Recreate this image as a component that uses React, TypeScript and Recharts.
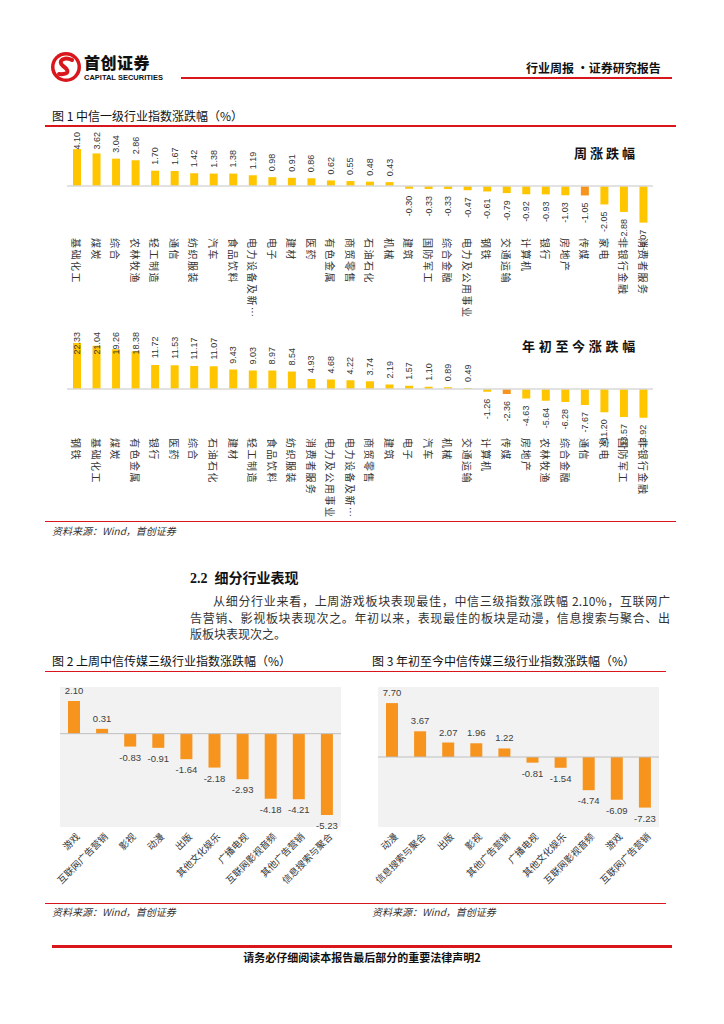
import React from 'react';
import { BarChart, Bar, XAxis, YAxis, Cell, LabelList, ReferenceLine, CartesianGrid } from 'recharts';

// 图1 周涨跌幅
const weekCategories = [
  '基础化工', '煤炭', '综合', '农林牧渔', '轻工制造', '通信', '纺织服装', '汽车', '食品饮料', '电力设备及新能源',
  '电子', '建材', '医药', '有色金属', '商贸零售', '石油石化', '机械', '建筑', '国防军工', '综合金融',
  '电力及公用事业', '钢铁', '交通运输', '计算机', '银行', '房地产', '传媒', '家电', '非银行金融', '消费者服务',
];
const weekValues = [
  4.1, 3.62, 3.04, 2.86, 1.7, 1.67, 1.42, 1.38, 1.38, 1.19,
  0.98, 0.91, 0.86, 0.62, 0.55, 0.48, 0.43, -0.3, -0.33, -0.33,
  -0.47, -0.61, -0.79, -0.92, -0.93, -1.03, -1.05, -2.05, -2.88, -4.07,
];

// 图1 年初至今涨跌幅
const ytdCategories = [
  '钢铁', '基础化工', '煤炭', '有色金属', '银行', '医药', '综合', '石油石化', '建材', '轻工制造',
  '食品饮料', '纺织服装', '消费者服务', '电力及公用事业', '电力设备及新能源', '商贸零售', '建筑', '电子', '汽车', '机械',
  '交通运输', '计算机', '传媒', '房地产', '农林牧渔', '综合金融', '通信', '家电', '国防军工', '非银行金融',
];
const ytdValues = [
  22.33, 21.04, 19.26, 18.38, 11.72, 11.53, 11.17, 11.07, 9.43, 9.03,
  8.97, 8.54, 4.93, 4.68, 4.22, 3.74, 2.19, 1.57, 1.1, 0.89,
  0.49, -1.26, -2.36, -4.63, -5.64, -6.28, -7.67, -11.2, -13.57, -13.92,
];

// 图2 上周中信传媒三级行业
const fig2Categories = ['游戏', '互联网广告营销', '影视', '动漫', '出版', '其他文化娱乐', '广播电视', '互联网影视音频', '其他广告营销', '信息搜索与聚合'];
const fig2Values = [2.1, 0.31, -0.83, -0.91, -1.64, -2.18, -2.93, -4.18, -4.21, -5.23];

// 图3 年初至今中信传媒三级行业
const fig3Categories = ['动漫', '信息搜索与聚合', '出版', '影视', '其他广告营销', '广播电视', '其他文化娱乐', '互联网影视音频', '游戏', '互联网广告营销'];
const fig3Values = [7.7, 3.67, 2.07, 1.96, 1.22, -0.81, -1.54, -4.74, -6.09, -7.23];

const highlightName = '传媒';

const CJK = '"Noto Sans CJK SC", "Noto Sans", sans-serif';
const NUM = '"Liberation Sans", Arial, sans-serif';
const RED = '#d9161c';
const YELLOW = '#ffc600';
const ORANGE = '#f7941d';

const toRows = (cats: string[], vals: number[]) => cats.map((name, i) => ({ name, value: vals[i] }));

const shortName = (s: string) => (s.length > 7 ? s.slice(0, 6) + '…' : s);

const charW = (c: string) => (c === '.' ? 2.5 : c === '-' ? 3 : 5);
const textLen = (t: string) => t.split('').reduce((a, c) => a + charW(c), 0);

const boxOf = (props: any) => {
  const vb = props.viewBox && props.viewBox.width !== undefined ? props.viewBox : props;
  const top = Math.min(vb.y, vb.y + vb.height);
  const bottom = Math.max(vb.y, vb.y + vb.height);
  return { cx: vb.x + vb.width / 2, top, bottom };
};

const rotatedValueLabel = (clampTop: number) => (props: any) => {
  const { cx, top, bottom } = boxOf(props);
  const v = Number(props.value);
  const text = v.toFixed(2);
  const ay = v >= 0 ? Math.max(top - 6 - textLen(text), clampTop) : bottom + 7;
  return (
    <text
      x={cx}
      y={ay}
      transform={`rotate(-90, ${cx}, ${ay})`}
      textAnchor="end"
      dominantBaseline="central"
      fontSize={9}
      fontFamily={NUM}
      fill="#333"
    >
      {text}
    </text>
  );
};

const flatValueLabel = (props: any) => {
  const { cx, top, bottom } = boxOf(props);
  const v = Number(props.value);
  const y = v >= 0 ? top - 7 : bottom + 14;
  return (
    <text x={cx} y={y} textAnchor="middle" fontSize={9.5} fontFamily={NUM} fill="#404040">
      {v.toFixed(2)}
    </text>
  );
};

const VerticalTick = (props: any) => {
  const { x, payload, labelY } = props;
  return (
    <text
      x={x}
      y={labelY}
      transform={`rotate(90, ${x}, ${labelY})`}
      textAnchor="start"
      dominantBaseline="central"
      fontSize={10}
      letterSpacing={1.5}
      fontFamily={CJK}
      fill="#333"
    >
      {shortName(payload.value)}
    </text>
  );
};

const SlantTick = (props: any) => {
  const { x, payload, labelY } = props;
  const tx = x + 4;
  return (
    <text
      x={tx}
      y={labelY}
      transform={`rotate(-45, ${tx}, ${labelY})`}
      textAnchor="end"
      dy="0.35em"
      fontSize={9.5}
      fontFamily={CJK}
      fill="#333"
    >
      {payload.value}
    </text>
  );
};

type IndustryProps = {
  top: number;
  height: number;
  marginTop: number;
  axisHeight: number;
  domain: [number, number];
  cats: string[];
  vals: number[];
  labelY: number;
  clampTop: number;
};

const IndustryChart = ({ top, height, marginTop, axisHeight, domain, cats, vals, labelY, clampTop }: IndustryProps) => {
  const rows = toRows(cats, vals);
  return (
    <div style={{ position: 'absolute', left: 0, top }}>
      <BarChart width={724} height={height} data={rows} margin={{ top: marginTop, right: 71, left: 67, bottom: 0 }}>
        <XAxis
          dataKey="name"
          axisLine={false}
          tickLine={false}
          interval={0}
          height={axisHeight}
          tick={(p: any) => <VerticalTick {...p} labelY={labelY} />}
        />
        <YAxis hide width={0} domain={domain} allowDataOverflow />
        <ReferenceLine y={0} stroke="#d9d9d9" strokeWidth={1.5} />
        <Bar dataKey="value" barSize={8} isAnimationActive={false}>
          {rows.map((r) => (
            <Cell key={r.name} fill={r.name === highlightName ? ORANGE : YELLOW} />
          ))}
          <LabelList dataKey="value" content={rotatedValueLabel(clampTop)} />
        </Bar>
      </BarChart>
    </div>
  );
};

type MediaProps = {
  left: number;
  marginLeft: number;
  marginRight: number;
  domain: [number, number];
  cats: string[];
  vals: number[];
};

const MediaChart = ({ left, marginLeft, marginRight, domain, cats, vals }: MediaProps) => {
  const rows = toRows(cats, vals);
  return (
    <div style={{ position: 'absolute', left, top: 680 }}>
      <BarChart width={362} height={220} data={rows} margin={{ top: 7, right: marginRight, left: marginLeft, bottom: 0 }}>
        <CartesianGrid horizontal={false} vertical={false} fill="#f2f2f2" fillOpacity={1} />
        <XAxis
          dataKey="name"
          axisLine={false}
          tickLine={false}
          interval={0}
          height={73}
          tick={(p: any) => <SlantTick {...p} labelY={155} />}
        />
        <YAxis hide width={0} domain={domain} />
        <ReferenceLine y={0} stroke="#bfbfbf" strokeWidth={1} />
        <Bar dataKey="value" barSize={12} fill={ORANGE} isAnimationActive={false}>
          <LabelList dataKey="value" content={flatValueLabel} />
        </Bar>
      </BarChart>
    </div>
  );
};

const abs = (left: number, top: number, extra: React.CSSProperties = {}): React.CSSProperties => ({
  position: 'absolute',
  left,
  top,
  lineHeight: 1,
  whiteSpace: 'nowrap',
  fontFamily: CJK,
  ...extra,
});

const Rule = ({ left, top, width, h = 1.5 }: { left: number; top: number; width: number; h?: number }) => (
  <div style={{ position: 'absolute', left, top, width, height: h, background: RED }} />
);

const Logo = () => (
  <svg width={32} height={32} viewBox="0 0 32 32" style={{ position: 'absolute', left: 50, top: 51 }}>
    <circle cx={16} cy={16} r={15} fill={RED} />
    <circle cx={16} cy={16} r={11.5} fill="#fff" />
    <path d="M22 9 C14 5, 7 10, 13 15 C19 19, 20 24, 9 23" fill="none" stroke={RED} strokeWidth={4} strokeLinecap="round" />
  </svg>
);

export default function App() {
  const para: React.CSSProperties = { fontSize: 12, color: '#333', fontFamily: CJK, textAlignLast: 'justify', textAlign: 'justify' };
  return (
    <div style={{ position: 'absolute', left: 0, top: 0, width: 724, height: 1024, background: '#fff', overflow: 'hidden' }}>
      {/* header */}
      <Logo />
      <div style={abs(84, 54, { fontSize: 16, fontWeight: 900, color: '#111', letterSpacing: 0.5 })}>首创证券</div>
      <div style={abs(84, 74, { fontSize: 7.5, fontWeight: 700, fontFamily: NUM, color: '#111' })}>CAPITAL SECURITIES</div>
      <Rule left={181} top={77} width={491} h={2} />
      <div style={abs(526, 62, { fontSize: 12, fontWeight: 700, color: '#111' })}>行业周报 ·证券研究报告</div>

      {/* figure 1 */}
      <div style={abs(52, 110, { fontSize: 12, color: '#111' })}>图 1 中信一级行业指数涨跌幅（%）</div>
      <Rule left={45} top={125} width={631} />
      <IndustryChart
        top={128}
        height={200}
        marginTop={13}
        axisHeight={97}
        domain={[-5, 5]}
        cats={weekCategories}
        vals={weekValues}
        labelY={110}
        clampTop={4}
      />
      <IndustryChart
        top={313}
        height={207}
        marginTop={24.5}
        axisHeight={100}
        domain={[-15, 25]}
        cats={ytdCategories}
        vals={ytdValues}
        labelY={125}
        clampTop={19}
      />
      <div style={abs(574, 146, { fontSize: 13, fontWeight: 700, letterSpacing: 3, color: '#111' })}>周涨跌幅</div>
      <div style={abs(522, 339, { fontSize: 13, fontWeight: 700, letterSpacing: 3.7, color: '#111' })}>年初至今涨跌幅</div>
      <Rule left={45} top={521} width={631} h={1} />
      <div style={abs(52, 526, { fontSize: 10, fontStyle: 'italic', color: '#333' })}>资料来源：Wind，首创证券</div>

      {/* section 2.2 */}
      <div style={abs(190, 570, { fontSize: 14, fontWeight: 700, color: '#111' })}>
        <span style={{ fontFamily: '"Liberation Serif", serif' }}>2.2</span>
        <span style={{ marginLeft: 7 }}>细分行业表现</span>
      </div>
      <div style={{ position: 'absolute', left: 213, top: 594, width: 457, lineHeight: '14px', ...para }}>
        从细分行业来看，上周游戏板块表现最佳，中信三级指数涨跌幅 2.10%，互联网广
      </div>
      <div style={{ position: 'absolute', left: 190, top: 611, width: 480, lineHeight: '14px', ...para }}>
        告营销、影视板块表现次之。年初以来，表现最佳的板块是动漫，信息搜索与聚合、出
      </div>
      <div style={abs(190, 628, { fontSize: 12, color: '#333' })}>版板块表现次之。</div>

      {/* figures 2 and 3 */}
      <div style={abs(52, 655, { fontSize: 12, color: '#111' })}>图 2 上周中信传媒三级行业指数涨跌幅（%）</div>
      <div style={abs(372, 655, { fontSize: 12, color: '#111' })}>图 3 年初至今中信传媒三级行业指数涨跌幅（%）</div>
      <Rule left={45} top={671} width={321} h={1} />
      <Rule left={362} top={671} width={304} h={1} />
      <MediaChart left={0} marginLeft={60} marginRight={21} domain={[-6, 3]} cats={fig2Categories} vals={fig2Values} />
      <MediaChart left={362} marginLeft={16} marginRight={65} domain={[-10, 10]} cats={fig3Categories} vals={fig3Values} />
      <Rule left={45} top={903} width={321} h={1} />
      <Rule left={362} top={903} width={304} h={1} />
      <div style={abs(52, 907, { fontSize: 10, fontStyle: 'italic', color: '#333' })}>资料来源：Wind，首创证券</div>
      <div style={abs(372, 907, { fontSize: 10, fontStyle: 'italic', color: '#333' })}>资料来源：Wind，首创证券</div>

      {/* footer */}
      <Rule left={52} top={945} width={620} h={3} />
      <div style={{ ...abs(0, 952, { fontSize: 11, fontWeight: 700, color: '#111' }), width: 724, textAlign: 'center' }}>
        请务必仔细阅读本报告最后部分的重要法律声明2
      </div>
    </div>
  );
}
